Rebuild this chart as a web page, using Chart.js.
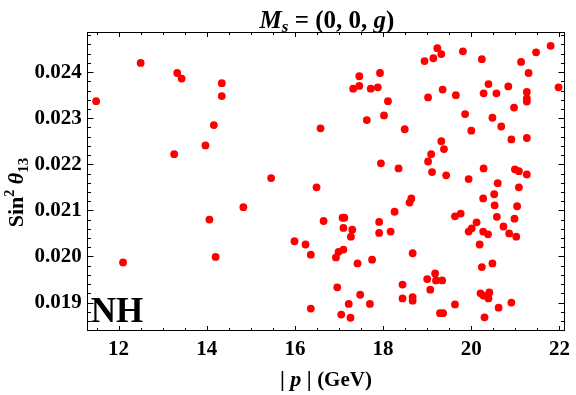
<!DOCTYPE html>
<html>
<head>
<meta charset="utf-8">
<script src="https://cdn.jsdelivr.net/npm/chart.js@4.4.1/dist/chart.umd.min.js"></script>
<style>
  html, body { margin: 0; padding: 0; background: #ffffff; }
  #wrap { width: 576px; height: 395px; }
</style>
</head>
<body>
<div id="wrap"><canvas id="c" width="576" height="395"></canvas></div>
<script>
// |p| (GeV)
const pValues = [
  11.49, 12.50, 13.33, 13.43, 14.34, 14.34, 14.16, 13.97, 13.26, 12.10,
  14.06, 14.20, 14.83, 15.46, 16.58, 17.32, 17.46, 17.46, 17.72, 17.88,
  17.93, 18.11, 17.63, 18.02, 18.49, 17.95, 18.35, 16.49, 18.26, 16.65,
  17.08, 17.12, 17.10, 17.30, 17.27, 17.91, 17.91, 18.17, 15.99, 16.24,
  16.36, 17.10, 16.99, 16.93, 17.42, 17.75, 16.96, 17.48, 17.22, 17.70,
  16.36, 17.05, 17.26, 18.44, 18.44, 19.23, 19.32, 19.14, 18.94, 19.81,
  20.24, 21.13, 21.47, 21.80, 21.30, 21.98, 20.39, 20.84, 20.28, 20.57,
  19.35, 19.02, 19.65, 21.26, 21.26, 21.26, 20.97, 19.86, 20.48, 20.68,
  20.00, 20.91, 21.26, 19.32, 19.38, 19.09, 19.02, 20.28, 19.11, 19.43,
  19.94, 20.99, 21.08, 21.26, 20.60, 21.08, 20.52, 20.27, 18.64, 18.60,
  20.53, 21.04, 20.58, 20.98, 19.76, 19.63, 20.12, 20.01, 19.94, 20.27,
  20.38, 20.73, 20.86, 21.02, 20.19, 18.67, 20.24, 20.48, 19.18, 19.00,
  19.20, 19.34, 19.07, 20.21, 20.41, 20.28, 20.39, 18.67, 18.67, 19.63,
  20.62, 20.91, 19.29, 19.36, 20.30
];
// Sin^2 theta_13
const s13Values = [
  0.02337, 0.02420, 0.02398, 0.02386, 0.02376, 0.02348, 0.02285, 0.02241, 0.02222, 0.01987,
  0.02080, 0.01999, 0.02107, 0.02170, 0.02278, 0.02364, 0.02370, 0.02391, 0.02364, 0.02367,
  0.02398, 0.02337, 0.02296, 0.02306, 0.02276, 0.02202, 0.02191, 0.02150, 0.02097, 0.02077,
  0.02084, 0.02084, 0.02062, 0.02058, 0.02043, 0.02075, 0.02051, 0.02054, 0.02033, 0.02026,
  0.02004, 0.02015, 0.02010, 0.01998, 0.01985, 0.01993, 0.01933, 0.01917, 0.01897, 0.01897,
  0.01887, 0.01874, 0.01867, 0.01939, 0.01909, 0.02452, 0.02439, 0.02430, 0.02424, 0.02445,
  0.02428, 0.02422, 0.02443, 0.02457, 0.02398, 0.02367, 0.02374, 0.02369, 0.02354, 0.02354,
  0.02362, 0.02345, 0.02350, 0.02357, 0.02343, 0.02336, 0.02323, 0.02309, 0.02301, 0.02282,
  0.02273, 0.02254, 0.02257, 0.02250, 0.02233, 0.02222, 0.02206, 0.02191, 0.02183, 0.02176,
  0.02168, 0.02189, 0.02185, 0.02178, 0.02159, 0.02150, 0.02135, 0.02126, 0.02126, 0.02117,
  0.02111, 0.02109, 0.02086, 0.02082, 0.02093, 0.02087, 0.02074, 0.02061, 0.02054, 0.02054,
  0.02048, 0.02065, 0.02050, 0.02043, 0.02026, 0.02007, 0.01977, 0.01985, 0.01963, 0.01951,
  0.01948, 0.01948, 0.01928, 0.01920, 0.01922, 0.01915, 0.01909, 0.01912, 0.01904, 0.01896,
  0.01889, 0.01900, 0.01877, 0.01877, 0.01868
];
const xTickLabels = [12, 14, 16, 18, 20, 22];
const yTickLabels = [0.019, 0.020, 0.021, 0.022, 0.023, 0.024];

const SERIF = "'Liberation Serif', 'Times New Roman', serif";

function drawRich(ctx, parts, x, y) {
  let w = 0;
  parts.forEach(p => { ctx.font = p.font; p.w = ctx.measureText(p.t).width; w += p.w; });
  let cx = x - w / 2;
  parts.forEach(p => { ctx.font = p.font; ctx.fillText(p.t, cx, y + (p.dy || 0)); cx += p.w; });
}

const framePlugin = {
  id: 'frame',
  afterDatasetsDraw(chart) {
    const ctx = chart.ctx, a = chart.chartArea;
    const xs = chart.scales.x, ys = chart.scales.y;
    ctx.save();
    ctx.strokeStyle = '#000';
    ctx.lineWidth = 1;
    const L = Math.round(a.left) + 0.5, R = Math.round(a.right) - 0.5;
    const T = Math.round(a.top) + 0.5, B = Math.round(a.bottom) - 0.5;
    ctx.strokeRect(L, T, R - L, B - T);
    ctx.beginPath();
    for (let i = 23; i <= 44; i++) {
      const v = i * 0.5;
      const major = i % 4 === 0;
      const len = major ? 4.5 : 2.5;
      const px = Math.round(xs.getPixelForValue(v)) + 0.5;
      if (px <= L || px >= R) continue;
      ctx.moveTo(px, B); ctx.lineTo(px, B - len);
      ctx.moveTo(px, T); ctx.lineTo(px, T + len);
    }
    for (let i = 92; i <= 124; i++) {
      const v = i * 0.0002;
      const major = i % 5 === 0;
      const len = major ? 6 : 3.5;
      const py = Math.round(ys.getPixelForValue(v)) + 0.5;
      if (py <= T || py >= B) continue;
      ctx.moveTo(L, py); ctx.lineTo(L + len, py);
      ctx.moveTo(R, py); ctx.lineTo(R - len, py);
    }
    ctx.stroke();
    ctx.restore();
  },
  afterDraw(chart) {
    const ctx = chart.ctx, a = chart.chartArea;
    ctx.save();
    ctx.fillStyle = '#000';
    ctx.textBaseline = 'alphabetic';
    const cx = (a.left + a.right) / 2;
    // main title
    drawRich(ctx, [
      { t: 'M', font: `italic bold 25px ${SERIF}` },
      { t: 's', font: `italic bold 17px ${SERIF}`, dy: 4 },
      { t: ' = (0, 0, ', font: `bold 25px ${SERIF}` },
      { t: 'g', font: `italic bold 25px ${SERIF}` },
      { t: ')', font: `bold 25px ${SERIF}` }
    ], cx + 1, 28);
    // x title
    drawRich(ctx, [
      { t: '| ', font: `bold 22px ${SERIF}` },
      { t: 'p', font: `italic bold 22px ${SERIF}` },
      { t: ' | ', font: `bold 22px ${SERIF}` },
      { t: '(GeV)', font: `bold 21px ${SERIF}` }
    ], cx, 386);
    // y title
    ctx.save();
    ctx.translate(23, (a.top + a.bottom) / 2 + 11);
    ctx.rotate(-Math.PI / 2);
    drawRich(ctx, [
      { t: 'Sin', font: `bold 22px ${SERIF}` },
      { t: '2', font: `bold 14px ${SERIF}`, dy: -9 },
      { t: ' ', font: `bold 22px ${SERIF}` },
      { t: 'θ', font: `italic bold 22px ${SERIF}` },
      { t: '13', font: `bold 15px ${SERIF}`, dy: 5 }
    ], 0, 0);
    ctx.restore();
    // NH label
    ctx.font = `bold 35px ${SERIF}`;
    ctx.textAlign = 'left';
    ctx.fillText('NH', a.left + 4, 322);
    ctx.restore();
  }
};

const points = pValues.map((p, i) => ({ x: p, y: s13Values[i] }));

new Chart(document.getElementById('c'), {
  type: 'scatter',
  data: {
    datasets: [{
      data: points,
      backgroundColor: '#ff0000',
      borderWidth: 0,
      pointRadius: 3.9,
      pointHoverRadius: 3.9
    }]
  },
  options: {
    responsive: false,
    animation: false,
    events: [],
    layout: { padding: { top: 32, right: 5, left: 0, bottom: 0 } },
    plugins: { legend: { display: false }, tooltip: { enabled: false }, title: { display: false } },
    scales: {
      x: {
        type: 'linear',
        min: 11.276,
        max: 22.13,
        grid: { display: false, drawTicks: false },
        border: { display: false },
        afterBuildTicks: s => { s.ticks = xTickLabels.map(v => ({ value: v })); },
        afterFit: s => { s.height = 64; },
        ticks: {
          color: '#000',
          padding: 6,
          maxRotation: 0,
          font: { family: SERIF, size: 21, weight: 'bold' },
          callback: v => String(v)
        }
      },
      y: {
        type: 'linear',
        min: 0.018383,
        max: 0.02487,
        grid: { display: false, drawTicks: false },
        border: { display: false },
        afterBuildTicks: s => { s.ticks = yTickLabels.map(v => ({ value: v })); },
        afterFit: s => { s.width = 86.7; },
        ticks: {
          color: '#000',
          padding: 5,
          font: { family: SERIF, size: 21, weight: 'bold' },
          callback: v => Number(v).toFixed(3)
        }
      }
    }
  },
  plugins: [framePlugin]
});
</script>
</body>
</html>
